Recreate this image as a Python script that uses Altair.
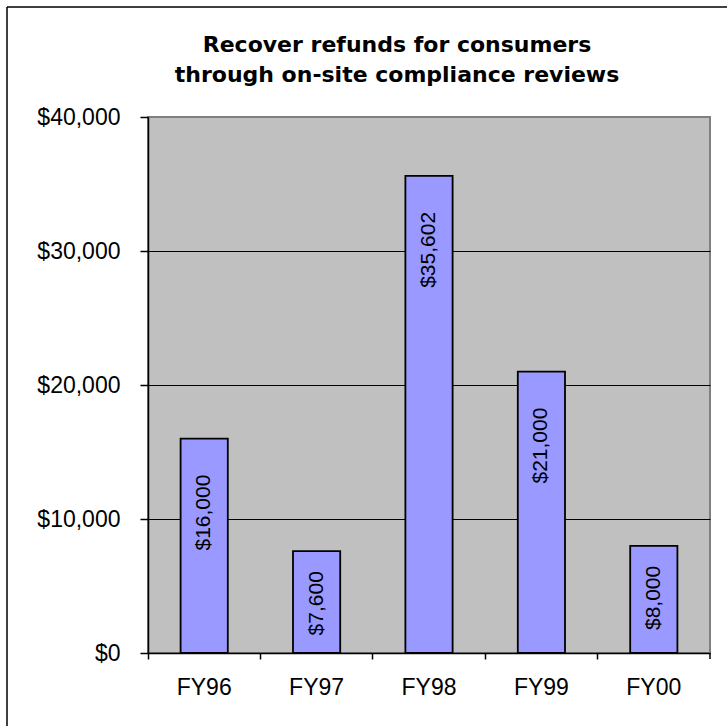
import altair as alt
import pandas as pd

years = ["FY96", "FY97", "FY98", "FY99", "FY00"]
refunds = [16000, 7600, 35602, 21000, 8000]
y_ticks = [0, 10000, 20000, 30000, 40000]
title_lines = ["Recover refunds for consumers", "through on-site compliance reviews"]

df = pd.DataFrame({"year": years, "refund": refunds})
one = pd.DataFrame({"k": [0]})

FONT = "Liberation Sans"
W, H = 562, 536

x_enc = alt.X(
    "year:N",
    sort=years,
    scale=alt.Scale(paddingInner=0, paddingOuter=0),
    axis=alt.Axis(
        title=None, labelAngle=0, labelFont=FONT, labelFontSize=23, labelColor="black",
        domainColor="black", domainWidth=1.5, tickColor="black", tickSize=6, tickWidth=1.5,
        bandPosition=0, labelPadding=17, labelBaseline="top",
    ),
)
y_enc = alt.Y(
    "refund:Q",
    scale=alt.Scale(domain=[0, 40000], nice=False),
    axis=alt.Axis(
        title=None, values=y_ticks, format="$,.0f", labelFont=FONT, labelFontSize=23,
        labelColor="black", domainColor="black", domainWidth=1.5, tickColor="black",
        tickSize=8, tickWidth=1.5, labelPadding=20, grid=True,
        gridColor=alt.condition("datum.value >= 40000", alt.value("#808080"), alt.value("black")),
        gridWidth=1.2,
    ),
)

base = alt.Chart(df)

bars = base.mark_bar(
    width=alt.RelativeBandSize(0.42), color="#9999FF", stroke="black", strokeWidth=1.8
).encode(x=x_enc, y=y_enc)

text_kw = dict(angle=270, align="right", baseline="middle", fontSize=21, font=FONT, color="black")
labels_big = base.transform_filter("datum.refund >= 10000").mark_text(dx=-36, **text_kw).encode(
    x=alt.X("year:N", sort=years), y=alt.Y("refund:Q"), text=alt.Text("refund:Q", format="$,.0f")
)
labels_small = base.transform_filter("datum.refund < 10000").mark_text(dx=-20, **text_kw).encode(
    x=alt.X("year:N", sort=years), y=alt.Y("refund:Q"), text=alt.Text("refund:Q", format="$,.0f")
)

deco = alt.Chart(one)
end_tick = deco.mark_rule(color="black", strokeWidth=1.5).encode(
    x=alt.value(W), y=alt.value(H), y2=alt.value(H + 6)
)
border_top = deco.mark_rule(color="black", strokeWidth=1.5).encode(
    x=alt.value(-141), x2=alt.value(600), y=alt.value(-110)
)
border_left = deco.mark_rule(color="black", strokeWidth=1.5).encode(
    x=alt.value(-141), y=alt.value(-110), y2=alt.value(620)
)
title = deco.mark_text(
    font="DejaVu Sans", fontSize=22, fontWeight="bold", color="black", align="center",
    baseline="alphabetic", lineHeight=30,
).encode(x=alt.value(249), y=alt.value(-65), text=alt.value(title_lines))

chart = alt.layer(bars, labels_big, labels_small, end_tick, border_top, border_left, title).properties(
    width=W,
    height=H,
    padding={"left": 148, "top": 117, "right": 17, "bottom": 73},
    autosize=alt.AutoSizeParams(type="none"),
    background="white",
).configure_view(
    fill="#C0C0C0", stroke="#808080", strokeWidth=2
)

chart.save("out.html", embed_options={"renderer": "svg", "actions": False})
